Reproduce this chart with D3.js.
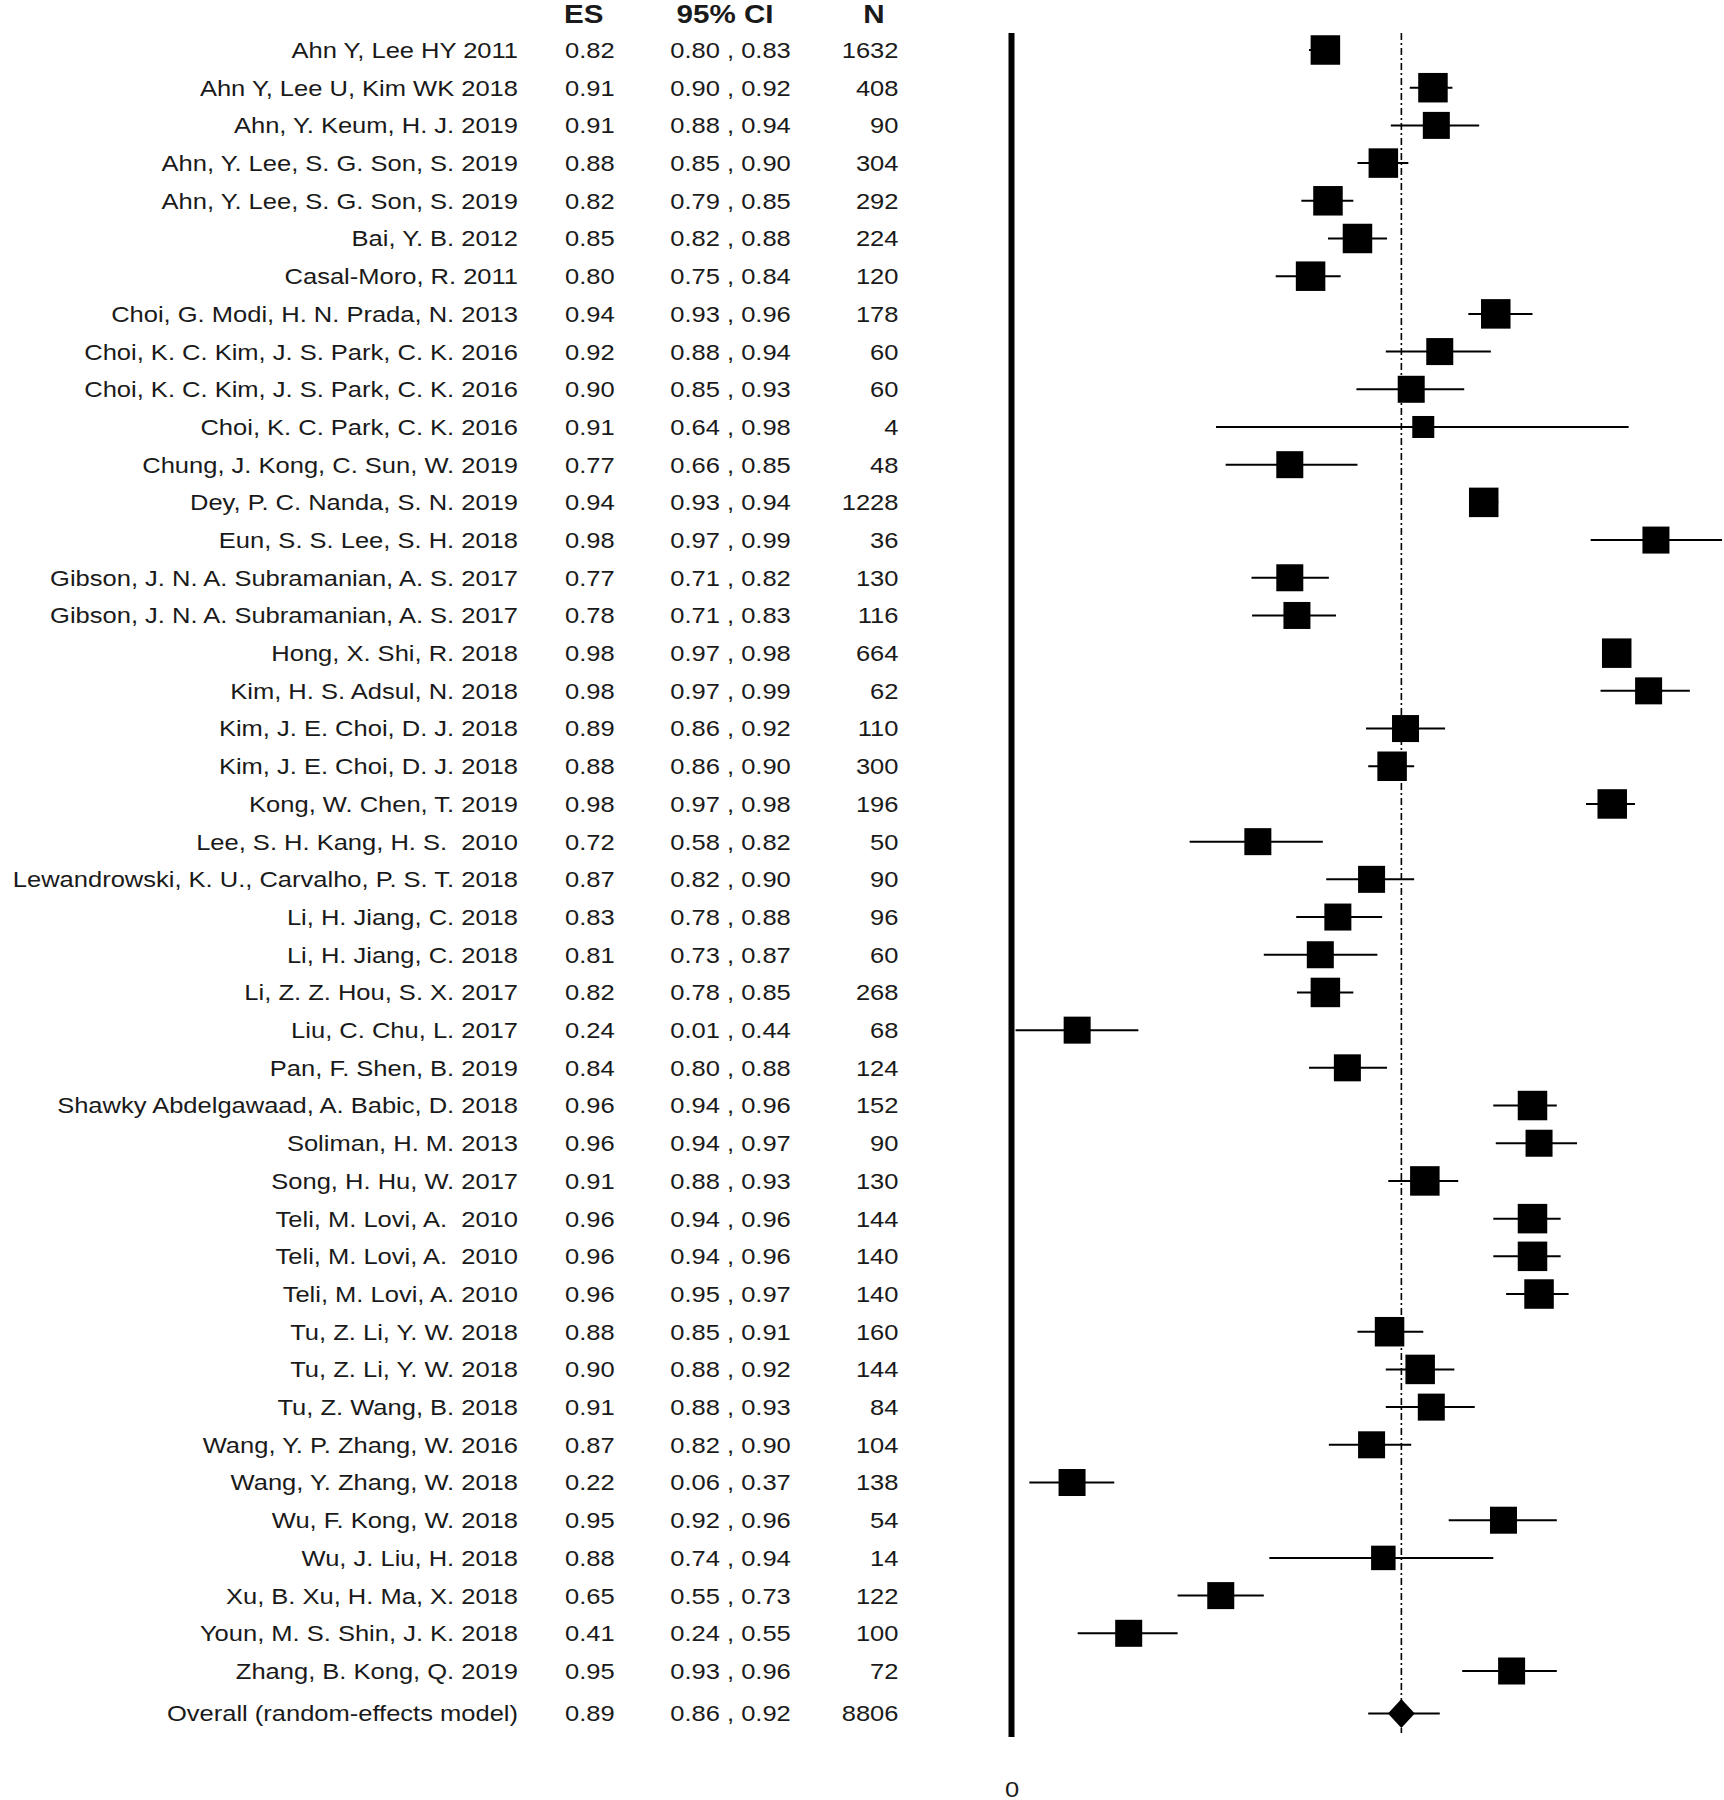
<!DOCTYPE html>
<html>
<head>
<meta charset="utf-8">
<script src="https://cdn.jsdelivr.net/npm/d3@7"></script>
<style>
  html, body { margin: 0; padding: 0; background: #fff; }
  text { font-family: "Liberation Sans", Arial, Helvetica, sans-serif; fill: #1a1a1a; white-space: pre; }
</style>
</head>
<body>
<div id="chart"></div>
<script>
// ---------------- data ----------------
const studies = [
  "Ahn Y, Lee HY 2011",
  "Ahn Y, Lee U, Kim WK 2018",
  "Ahn, Y. Keum, H. J. 2019",
  "Ahn, Y. Lee, S. G. Son, S. 2019",
  "Ahn, Y. Lee, S. G. Son, S. 2019",
  "Bai, Y. B. 2012",
  "Casal-Moro, R. 2011",
  "Choi, G. Modi, H. N. Prada, N. 2013",
  "Choi, K. C. Kim, J. S. Park, C. K. 2016",
  "Choi, K. C. Kim, J. S. Park, C. K. 2016",
  "Choi, K. C. Park, C. K. 2016",
  "Chung, J. Kong, C. Sun, W. 2019",
  "Dey, P. C. Nanda, S. N. 2019",
  "Eun, S. S. Lee, S. H. 2018",
  "Gibson, J. N. A. Subramanian, A. S. 2017",
  "Gibson, J. N. A. Subramanian, A. S. 2017",
  "Hong, X. Shi, R. 2018",
  "Kim, H. S. Adsul, N. 2018",
  "Kim, J. E. Choi, D. J. 2018",
  "Kim, J. E. Choi, D. J. 2018",
  "Kong, W. Chen, T. 2019",
  "Lee, S. H. Kang, H. S.  2010",
  "Lewandrowski, K. U., Carvalho, P. S. T. 2018",
  "Li, H. Jiang, C. 2018",
  "Li, H. Jiang, C. 2018",
  "Li, Z. Z. Hou, S. X. 2017",
  "Liu, C. Chu, L. 2017",
  "Pan, F. Shen, B. 2019",
  "Shawky Abdelgawaad, A. Babic, D. 2018",
  "Soliman, H. M. 2013",
  "Song, H. Hu, W. 2017",
  "Teli, M. Lovi, A.  2010",
  "Teli, M. Lovi, A.  2010",
  "Teli, M. Lovi, A. 2010",
  "Tu, Z. Li, Y. W. 2018",
  "Tu, Z. Li, Y. W. 2018",
  "Tu, Z. Wang, B. 2018",
  "Wang, Y. P. Zhang, W. 2016",
  "Wang, Y. Zhang, W. 2018",
  "Wu, F. Kong, W. 2018",
  "Wu, J. Liu, H. 2018",
  "Xu, B. Xu, H. Ma, X. 2018",
  "Youn, M. S. Shin, J. K. 2018",
  "Zhang, B. Kong, Q. 2019"
];
// effect sizes (proportions) and 95% CI bounds, estimated from the plot (shown rounded to 2 decimals)
const es = [0.820,0.912,0.914,0.877,0.823,0.854,0.802,0.943,0.916,0.898,0.906,0.774,0.938,0.982,0.774,0.784,0.976,0.981,0.894,0.884,0.9752,0.724,0.867,0.834,0.814,0.820,0.236,0.844,0.956,0.958,0.907,0.956,0.956,0.958,0.882,0.904,0.911,0.867,0.217,0.946,0.877,0.654,0.414,0.949];
const ciLow = [0.800,0.897,0.883,0.854,0.790,0.823,0.753,0.931,0.879,0.853,0.644,0.664,0.932,0.971,0.713,0.714,0.974,0.973,0.862,0.864,0.970,0.584,0.821,0.783,0.734,0.784,0.010,0.800,0.942,0.943,0.881,0.942,0.942,0.947,0.854,0.879,0.879,0.824,0.056,0.921,0.743,0.554,0.238,0.928];
const ciHigh = [0.830,0.923,0.936,0.896,0.850,0.880,0.837,0.956,0.941,0.929,0.978,0.854,0.944,0.989,0.824,0.832,0.978,0.986,0.919,0.900,0.979,0.817,0.900,0.876,0.872,0.850,0.444,0.880,0.963,0.968,0.926,0.964,0.964,0.966,0.906,0.924,0.934,0.898,0.367,0.963,0.942,0.734,0.554,0.963];
const nObs = [1632,408,90,304,292,224,120,178,60,60,4,48,1228,36,130,116,664,62,110,300,196,50,90,96,60,268,68,124,152,90,130,144,140,140,160,144,84,104,138,54,14,122,100,72];

const overallLabel = "Overall (random-effects model)";
const overallES = 0.891, overallLow = 0.864, overallHigh = 0.916, overallN = 8806;

const headers = ["ES", "95% CI", "N"];
const xTicks = [0];

// ---------------- layout ----------------
const W = 1724, H = 1800;
const FS = 22, SX = 1.16;
const fmt = v => (Math.round(v * 100) / 100).toFixed(2);
const toT = p => -Math.log(1 - p);          // plotted metric

const svg = d3.select("#chart").append("svg")
  .attr("width", W).attr("height", H)
  .attr("viewBox", `0 0 ${W} ${H}`);
svg.append("rect").attr("width", W).attr("height", H).attr("fill", "#fff");

const x = d3.scalePow().exponent(0.845)
  .domain([0, toT(0.99)])
  .range([1011.5, 1011.5 + 199 * Math.pow(toT(0.99), 0.845)]);

const y = d3.scalePoint().domain(d3.range(studies.length)).range([50, 1671]);
const yOverall = y(studies.length - 1) + 42.5;

const sizeScale = d3.scaleThreshold().domain([74, 160, 320]).range([29.5, 27, 24.5, 22]);

const rows = studies.map((s, i) => ({ name: s, es: es[i], lo: ciLow[i], hi: ciHigh[i], n: nObs[i], y: y(i) }));

function txt(g, xx, yy, s, anchor, extra) {
  const t = g.append("text")
    .attr("transform", `translate(${xx},${yy}) scale(${SX},1)`)
    .attr("text-anchor", anchor)
    .attr("font-size", FS)
    .text(s);
  if (extra) extra(t);
  return t;
}

// ---------------- header ----------------
const hdr = svg.append("g");
const hx = [564, 725, 874], ha = ["start", "middle", "middle"];
headers.forEach((h, i) => txt(hdr, hx[i], 23, h, ha[i], t => t.attr("font-weight", "bold").attr("font-size", 25.5)));

// ---------------- text columns ----------------
const cols = svg.append("g");
const base = FS * 0.36;
const colName = 518, colES = 565, colCI = 730.5, colN = 898.5;
rows.forEach(r => {
  txt(cols, colName, r.y + base, r.name, "end");
  txt(cols, colES, r.y + base, fmt(r.es), "start");
  txt(cols, colCI, r.y + base, fmt(r.lo) + " , " + fmt(r.hi), "middle");
  txt(cols, colN, r.y + base, String(r.n), "end");
});
txt(cols, colName, yOverall + base, overallLabel, "end");
txt(cols, colES, yOverall + base, fmt(overallES), "start");
txt(cols, colCI, yOverall + base, fmt(overallLow) + " , " + fmt(overallHigh), "middle");
txt(cols, colN, yOverall + base, String(overallN), "end");

// ---------------- plot ----------------
const plot = svg.append("g");

// thick zero line
plot.append("line")
  .attr("x1", x(0)).attr("x2", x(0))
  .attr("y1", 33).attr("y2", 1737)
  .attr("stroke", "#000").attr("stroke-width", 6);

// dotted overall line
plot.append("line")
  .attr("x1", x(toT(overallES))).attr("x2", x(toT(overallES)))
  .attr("y1", 33).attr("y2", 1733)
  .attr("stroke", "#000").attr("stroke-width", 1.6)
  .attr("stroke-dasharray", "7,3,2,3");

// CI lines
plot.selectAll("line.ci").data(rows).join("line")
  .attr("class", "ci")
  .attr("x1", d => x(toT(d.lo))).attr("x2", d => x(toT(d.hi)))
  .attr("y1", d => d.y).attr("y2", d => d.y)
  .attr("stroke", "#000").attr("stroke-width", 2);

// squares
plot.selectAll("rect.box").data(rows).join("rect")
  .attr("class", "box")
  .each(function (d) {
    const s = sizeScale(x(toT(d.hi)) - x(toT(d.lo)));
    d3.select(this)
      .attr("x", x(toT(d.es)) - s / 2).attr("y", d.y - s / 2)
      .attr("width", s).attr("height", s);
  })
  .attr("fill", "#000");

// overall CI + diamond
plot.append("line")
  .attr("x1", x(toT(overallLow))).attr("x2", x(toT(overallHigh)))
  .attr("y1", yOverall).attr("y2", yOverall)
  .attr("stroke", "#000").attr("stroke-width", 2);
const cx = x(toT(overallES));
plot.append("path")
  .attr("d", `M${cx - 13.4},${yOverall} L${cx},${yOverall - 14.5} L${cx + 13.4},${yOverall} L${cx},${yOverall + 14.5} Z`)
  .attr("fill", "#000");

// x axis (only the zero label)
const ax = svg.append("g")
  .attr("transform", "translate(0,1778)")
  .call(d3.axisBottom(x).tickValues(xTicks).tickSize(0).tickFormat(d3.format("d")));
ax.select(".domain").remove();
ax.selectAll("text")
  .attr("font-size", FS)
  .attr("font-family", "Liberation Sans, Arial, sans-serif")
  .attr("fill", "#1a1a1a")
  .attr("transform", `scale(${SX},1)`);
</script>
</body>
</html>
